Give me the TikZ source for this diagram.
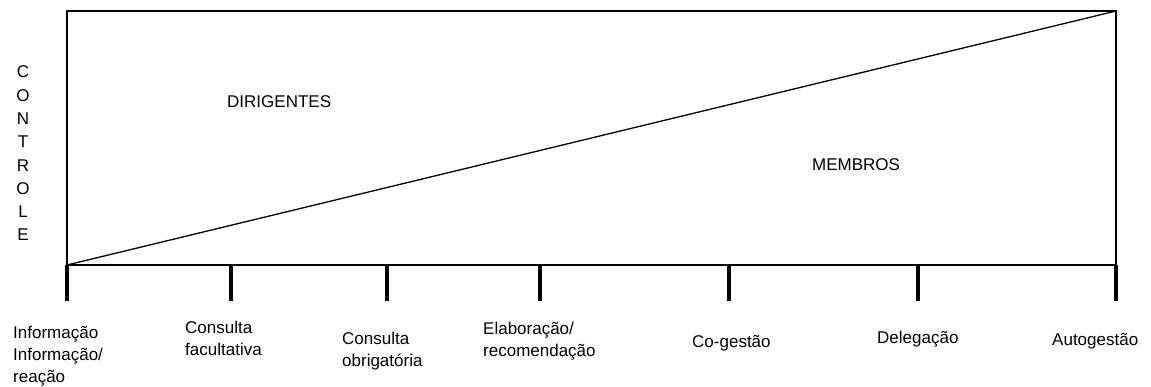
\documentclass[tikz,border=0pt]{standalone}
\usepackage{fontspec}
\setmainfont{Liberation Sans}
\begin{document}
\begin{tikzpicture}[x = 1pt, y = -1pt,
        font = \fontsize{17}{22}\selectfont,
        rule/.style = {line width = 1.3pt},
        tick/.style = {line width = 4.5pt},
        level/.style = {anchor = base west, align = left, inner sep = 0pt}]
    \useasboundingbox (0, 0) rectangle (1151, 387);

    \coordinate (bl) at (67, 265);
    \coordinate (tl) at (67, 11);
    \coordinate (tr) at (1116, 11);
    \coordinate (br) at (1116, 265);
    \draw [rule] (bl) -- (tl) -- (tr) -- (br) -- cycle;
    \draw [rule] (bl) -- (tr);

    % escala de participacao
    \foreach \x [count = \i] in {67, 231, 387, 540, 729, 918, 1116}
        \draw [tick] (\x, 265) coordinate (t\i) -- (\x, 301);

    % base = ultima linha
    \node [level] (info) at (13, 382) {Informação\\Informação/\\reação};
    \node [level] (facult) at (185, 355) {Consulta\\facultativa};
    \node [level] (obrig) at (342, 366) {Consulta\\obrigatória};
    \node [level] (elab) at (483, 356) {Elaboração/\\recomendação};
    \node [level] (cogest) at (692, 347) {Co-gestão};
    \node [level] (deleg) at (877, 343) {Delegação};
    \node [level] (autog) at (1052, 345) {Autogestão};

    \node [level] (dirig) at (227, 108) {DIRIGENTES};
    \node [level] (membros) at (812, 171) {MEMBROS};
    \node [align = center, inner sep = 0pt, font = \fontsize{17}{23.3}\selectfont]
        (controle) at (23, 153.5) {C\\O\\N\\T\\R\\O\\L\\E};
\end{tikzpicture}
\end{document}
